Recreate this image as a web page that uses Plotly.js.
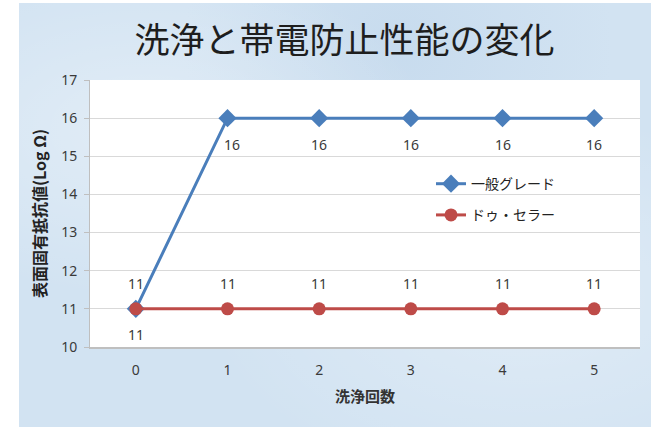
<!DOCTYPE html>
<html>
<head>
<meta charset="utf-8">
<script src="https://cdn.plot.ly/plotly-3.0.1.min.js"></script>
<style>
  html, body { margin: 0; padding: 0; background: #ffffff; width: 651px; height: 428px; overflow: hidden; }
  #wrap {
    position: absolute; left: 19px; top: 3px; width: 632px; height: 424px;
    background-color: #d2e3f2;
    background-image:
      radial-gradient(ellipse at 20% 30%, rgba(255,255,255,0.35) 0%, rgba(255,255,255,0) 40%),
      radial-gradient(ellipse at 80% 70%, rgba(255,255,255,0.30) 0%, rgba(255,255,255,0) 45%),
      radial-gradient(ellipse at 60% 10%, rgba(180,205,230,0.35) 0%, rgba(180,205,230,0) 40%);
  }
  #chart { width: 632px; height: 424px; }
</style>
</head>
<body>
<div id="wrap"><div id="chart"></div></div>
<script>
const washCounts = [0, 1, 2, 3, 4, 5];
const seriesNames = ["一般グレード", "ドゥ・セラー"];
const generalGrade = [11, 16, 16, 16, 16, 16];
const duCeller = [11, 11, 11, 11, 11, 11];
const yTicks = [10, 11, 12, 13, 14, 15, 16, 17];

const labelFont = { family: "Noto Sans, Noto Sans CJK JP, sans-serif", size: 14, color: "#3a3a3a" };

const traces = [
  {
    x: washCounts, y: generalGrade, name: seriesNames[0], type: "scatter", mode: "lines+markers",
    legendgroup: "a",
    line: { color: "#4a7ebb", width: 3 },
    marker: { symbol: "diamond", size: 14, color: "#4a7ebb" },
    hoverinfo: "skip"
  },
  {
    x: washCounts, y: duCeller, name: seriesNames[1], type: "scatter", mode: "lines+markers",
    legendgroup: "b",
    line: { color: "#be4b48", width: 3 },
    marker: { symbol: "circle", size: 13, color: "#be4b48" },
    hoverinfo: "skip"
  }
];

const annotations = [];
washCounts.forEach((xv, i) => {
  annotations.push({ x: xv, y: generalGrade[i], xref: "x", yref: "y", text: String(generalGrade[i]),
    showarrow: false, yshift: -26, xshift: i === 1 ? 4 : 0, font: labelFont });
  annotations.push({ x: xv, y: duCeller[i], xref: "x", yref: "y", text: String(duCeller[i]),
    showarrow: false, yshift: 25, font: labelFont });
});

const layout = {
  width: 632, height: 424,
  margin: { l: 71, r: 11, t: 77, b: 80 },
  paper_bgcolor: "rgba(0,0,0,0)",
  plot_bgcolor: "#ffffff",
  title: {
    text: "洗浄と帯電防止性能の変化",
    font: { family: "Noto Sans CJK JP, sans-serif", size: 35, color: "#1e1e1e" },
    xref: "container", x: 0.515, xanchor: "center",
    yref: "container", y: 0.91, yanchor: "middle"
  },
  xaxis: {
    range: [-0.5, 5.5],
    tickvals: washCounts,
    ticktext: washCounts.map(String),
    showgrid: false, zeroline: false,
    showline: true, linecolor: "#bfbfbf", linewidth: 2,
    ticks: "", ticklabelstandoff: 9,
    tickfont: labelFont,
    title: { text: "洗浄回数", standoff: 14,
      font: { family: "Noto Sans CJK JP, sans-serif", size: 15, color: "#333333", weight: "bold" } }
  },
  yaxis: {
    range: [10, 17],
    tickvals: yTicks,
    showgrid: true, gridcolor: "#d9d9d9", gridwidth: 1,
    zeroline: false,
    showline: true, linecolor: "#bfbfbf", linewidth: 1,
    ticks: "outside", ticklen: 5, tickcolor: "#bfbfbf", ticklabelstandoff: 4,
    tickfont: labelFont,
    title: { text: "表面固有抵抗値(Log Ω)", standoff: 10,
      font: { family: "Noto Sans CJK JP, sans-serif", size: 16, color: "#222222", weight: "bold" } }
  },
  showlegend: true,
  legend: {
    x: 0.62, y: 0.67, xanchor: "left", yanchor: "top",
    bgcolor: "rgba(0,0,0,0)", borderwidth: 0,
    tracegroupgap: 10,
    font: { family: "Noto Sans CJK JP, sans-serif", size: 14, color: "#222222" }
  },
  annotations: annotations
};

Plotly.newPlot("chart", traces, layout, { displayModeBar: false, staticPlot: true });
</script>
</body>
</html>
